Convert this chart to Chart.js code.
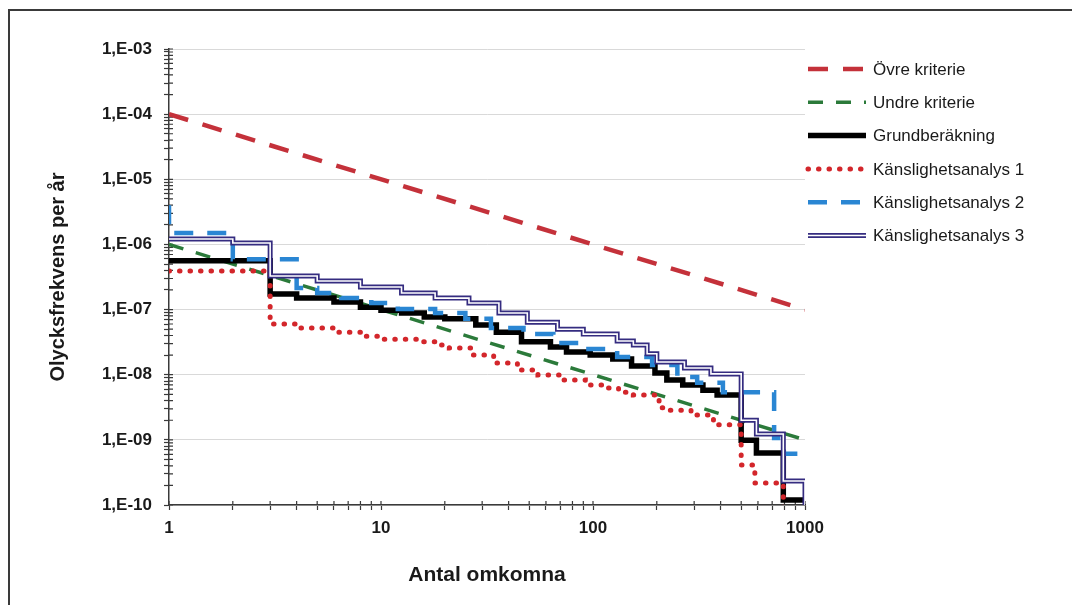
<!DOCTYPE html>
<html lang="sv">
<head>
<meta charset="utf-8">
<title>Olycksfrekvens per år</title>
<script src="https://cdn.jsdelivr.net/npm/chart.js@4.4.1/dist/chart.umd.min.js"></script>
<style>
  html, body { margin: 0; padding: 0; background: #fff; overflow: hidden; }
  #wrap { position: relative; width: 1072px; height: 605px; }
  #frame {
    position: absolute; left: 8px; top: 9px; right: -10px; bottom: -10px;
    border-top: 2px solid #3a3a3a; border-left: 2px solid #3a3a3a;
  }
  #chart { position: absolute; left: 0; top: 0; }
</style>
</head>
<body>
<div id="wrap">
  <div id="frame"></div>
  <canvas id="chart" width="1072" height="605"></canvas>
</div>
<script>
// Axes
const X_DECADES = [1, 10, 100, 1000];
const Y_DECADES = [1e-10, 1e-9, 1e-8, 1e-7, 1e-6, 1e-5, 1e-4, 1e-3];
const MINOR_STEPS = [2, 3, 4, 5, 6, 7, 8, 9];

// Criteria lines
const ovreN = [1, 1000];
const ovreF = [1e-4, 1e-7];
const undreN = [1, 1000];
const undreF = [1e-6, 1e-9];

// Grundberäkning (step starts)
const grundN = [1, 3, 4, 6, 8, 10, 12.5, 16, 20, 28, 35, 46, 63, 75, 97, 124, 152, 196, 223, 265, 330, 385, 500, 590, 790, 1000];
const grundF = [5.6e-7, 1.73e-7, 1.5e-7, 1.31e-7, 1.09e-7, 9.8e-8, 8.85e-8, 7.7e-8, 7.2e-8, 5.8e-8, 4.5e-8, 3.2e-8, 2.66e-8, 2.23e-8, 2.0e-8, 1.74e-8, 1.36e-8, 1.06e-8, 8.3e-9, 6.95e-9, 5.8e-9, 4.9e-9, 9.9e-10, 6.3e-10, 1.19e-10, 1.19e-10];

// Känslighetsanalys 1
const k1N = [1, 3, 4, 6, 8, 10, 15, 18, 21, 27, 34, 44, 55, 72, 92, 112, 132, 155, 205, 225, 290, 370, 500, 580, 790, 1000];
const k1F = [3.9e-7, 6.0e-8, 5.2e-8, 4.5e-8, 3.9e-8, 3.5e-8, 3.2e-8, 2.86e-8, 2.57e-8, 2.0e-8, 1.51e-8, 1.18e-8, 9.9e-9, 8.3e-9, 6.95e-9, 6.25e-9, 5.4e-9, 4.9e-9, 3.1e-9, 2.85e-9, 2.4e-9, 1.7e-9, 4.1e-10, 2.17e-10, 5e-11, 5e-11];

// Känslighetsanalys 2
const k2N = [1, 1, 2, 4, 5, 6.5, 9, 12, 18, 25, 33, 47, 65, 90, 130, 190, 250, 310, 410, 715, 790, 1000];
const k2F = [4.0e-6, 1.5e-6, 5.9e-7, 2.14e-7, 1.8e-7, 1.5e-7, 1.26e-7, 1.02e-7, 8.85e-8, 7.2e-8, 5.2e-8, 4.2e-8, 3.07e-8, 2.48e-8, 1.87e-8, 1.41e-8, 9.2e-9, 7.5e-9, 5.4e-9, 1.07e-9, 6.1e-10, 6.1e-10];

// Känslighetsanalys 3
const k3N = [1, 2, 3, 5, 8, 12.5, 18, 26, 36, 49, 68, 90, 130, 155, 180, 200, 270, 360, 500, 590, 790, 1000, 1000];
const k3F = [1.21e-6, 1.05e-6, 3.27e-7, 2.74e-7, 2.22e-7, 1.8e-7, 1.5e-7, 1.26e-7, 8.85e-8, 6.4e-8, 5.0e-8, 4.2e-8, 3.3e-8, 2.86e-8, 2.1e-8, 1.57e-8, 1.27e-8, 1.03e-8, 2.0e-9, 1.23e-9, 2.33e-10, 2.33e-10, 5e-11];

const FONT = "'Liberation Sans', Arial, sans-serif";
const TEXT = '#1a1a1a';
const AXIS = '#3a3a3a';

function pts(ns, fs) {
  return ns.map((n, i) => ({ x: n, y: fs[i] }));
}

function isDecade(v) {
  const l = Math.log10(v);
  return Math.abs(l - Math.round(l)) < 1e-6;
}

function logTicks(decades) {
  const out = [];
  decades.forEach((d, i) => {
    out.push({ value: d });
    if (i < decades.length - 1) MINOR_STEPS.forEach(m => out.push({ value: d * m }));
  });
  return out;
}

// legend rows: dataset indices drawn on top of each other
const LEGEND_ROWS = [[0], [1], [2], [3], [4], [5, 6]];

const sideLegend = {
  id: 'sideLegend',
  afterDraw(chart) {
    const { ctx } = chart;
    const x0 = 808, w = 58, y0 = 69, step = 33.3;
    ctx.save();
    LEGEND_ROWS.forEach((row, i) => {
      const y = y0 + i * step;
      row.forEach(idx => {
        const ds = chart.data.datasets[idx];
        ctx.beginPath();
        ctx.strokeStyle = ds.borderColor;
        ctx.lineWidth = ds.borderWidth;
        ctx.lineCap = ds.borderCapStyle || 'butt';
        ctx.setLineDash(ds.borderDash || []);
        ctx.moveTo(x0, y);
        ctx.lineTo(x0 + w, y);
        ctx.stroke();
      });
      ctx.setLineDash([]);
      ctx.fillStyle = TEXT;
      ctx.font = '17px ' + FONT;
      ctx.textBaseline = 'middle';
      ctx.fillText(chart.data.datasets[row[0]].label, x0 + w + 7, y + 1);
    });
    ctx.restore();
  }
};

// tick marks crossing into the plot area
const innerTicks = {
  id: 'innerTicks',
  beforeDatasetsDraw(chart) {
    const { ctx, chartArea, scales } = chart;
    ctx.save();
    ctx.strokeStyle = AXIS;
    ctx.lineWidth = 1.2;
    ctx.beginPath();
    scales.y.ticks.forEach(t => {
      const py = scales.y.getPixelForValue(t.value);
      ctx.moveTo(chartArea.left, py);
      ctx.lineTo(chartArea.left + 4, py);
    });
    scales.x.ticks.forEach(t => {
      const px = scales.x.getPixelForValue(t.value);
      ctx.moveTo(px, chartArea.bottom);
      ctx.lineTo(px, chartArea.bottom - 4);
    });
    ctx.stroke();
    ctx.restore();
  }
};

const stepLine = { stepped: true, pointRadius: 0, fill: false, tension: 0 };

new Chart(document.getElementById('chart'), {
  type: 'line',
  data: {
    datasets: [
      { label: 'Övre kriterie', data: pts(ovreN, ovreF), borderColor: '#c4313a', borderWidth: 4.5,
        borderDash: [20, 15], pointRadius: 0, order: 6 },
      { label: 'Undre kriterie', data: pts(undreN, undreF), borderColor: '#2b7a3a', borderWidth: 3.5,
        borderDash: [15, 13], pointRadius: 0, order: 5 },
      { label: 'Grundberäkning', data: pts(grundN, grundF), borderColor: '#000000', borderWidth: 5.5,
        ...stepLine, order: 4 },
      { label: 'Känslighetsanalys 1', data: pts(k1N, k1F), borderColor: '#d3262b', borderWidth: 5,
        borderDash: [0.5, 10], borderCapStyle: 'round', ...stepLine, order: 3 },
      { label: 'Känslighetsanalys 2', data: pts(k2N, k2F), borderColor: '#2a86d3', borderWidth: 4.5,
        borderDash: [19, 14], ...stepLine, order: 2 },
      { label: 'Känslighetsanalys 3', data: pts(k3N, k3F), borderColor: '#352c80', borderWidth: 5,
        ...stepLine, order: 1 },
      { label: 'Känslighetsanalys 3 (inner)', data: pts(k3N, k3F), borderColor: '#ffffff', borderWidth: 1.6,
        ...stepLine, order: 0 }
    ]
  },
  options: {
    responsive: false,
    animation: false,
    layout: { padding: { left: 0, top: 49, right: 267, bottom: 0 } },
    plugins: {
      legend: { display: false },
      tooltip: { enabled: false }
    },
    scales: {
      x: {
        type: 'logarithmic',
        min: 1,
        max: 1000,
        afterBuildTicks: s => { s.ticks = logTicks(X_DECADES); },
        afterFit: s => { s.height = 100; },
        border: { color: AXIS, width: 1.5 },
        grid: { drawOnChartArea: false, tickColor: AXIS, tickLength: 5, tickWidth: 1.2 },
        ticks: {
          autoSkip: false, maxRotation: 0, padding: 8, color: TEXT,
          font: { family: FONT, size: 17, weight: 'bold' },
          callback: v => isDecade(v) ? String(Math.round(v)) : ''
        },
        title: {
          display: true, text: 'Antal omkomna', color: TEXT,
          font: { family: FONT, size: 21, weight: 'bold' },
          padding: { top: 0, bottom: 17 }
        }
      },
      y: {
        type: 'logarithmic',
        min: 1e-10,
        max: 1e-3,
        afterBuildTicks: s => { s.ticks = logTicks(Y_DECADES); },
        afterFit: s => { s.width = 169; },
        border: { color: AXIS, width: 1.5 },
        grid: {
          color: c => (c.tick && isDecade(c.tick.value)) ? '#d9d9d9' : 'rgba(0,0,0,0)',
          tickColor: AXIS, tickLength: 5, tickWidth: 1.2
        },
        ticks: {
          autoSkip: false, padding: 12, color: TEXT,
          font: { family: FONT, size: 17, weight: 'bold' },
          callback: v => isDecade(v) ? '1,E-' + String(-Math.round(Math.log10(v))).padStart(2, '0') : ''
        },
        title: {
          display: true, text: 'Olycksfrekvens per år', color: TEXT,
          font: { family: FONT, size: 20, weight: 'bold' },
          padding: { top: 46, bottom: 0 }
        }
      }
    }
  },
  plugins: [innerTicks, sideLegend]
});
</script>
</body>
</html>
